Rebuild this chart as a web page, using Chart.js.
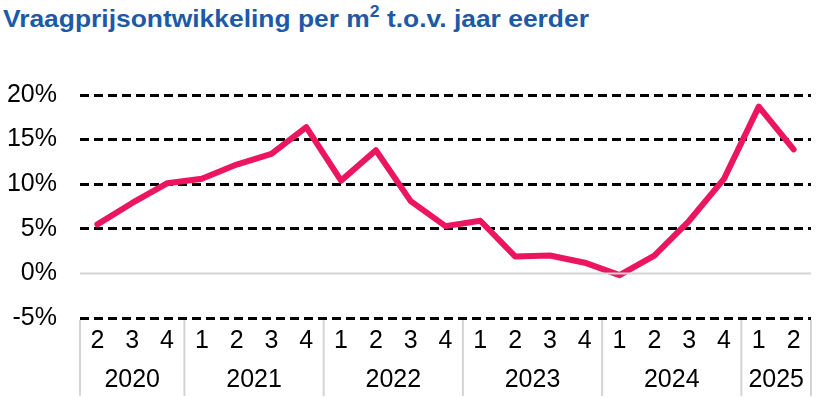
<!DOCTYPE html>
<html>
<head>
<meta charset="utf-8">
<script src="https://cdn.jsdelivr.net/npm/chart.js@4"></script>
<style>
  body { margin: 0; background: #fff; }
  #wrap { position: relative; width: 816px; height: 398px; }
  #titel {
    position: absolute; left: 3px; top: 7px; margin: 0;
    font: bold 24px/24px "Liberation Sans", Arial, sans-serif;
    color: #1c5aa8; white-space: nowrap;
    transform: scaleX(1.1); transform-origin: left top;
  }
  #titel sup { font-size: 16px; line-height: 0; position: relative; top: -1px; }
  canvas { position: absolute; left: 0; top: 0; }
</style>
</head>
<body>
<div id="wrap">
  <h1 id="titel">Vraagprijsontwikkeling per m<sup>2</sup> t.o.v. jaar eerder</h1>
  <canvas id="grafiek" width="816" height="398"></canvas>
</div>
<script>
// kwartalen en jaren
const kwartalen = ["2","3","4","1","2","3","4","1","2","3","4","1","2","3","4","1","2","3","4","1","2"];
const jaren = ["2020","2021","2022","2023","2024","2025"];
const kwartalenPerJaar = [3, 4, 4, 4, 4, 2];

// procentuele verandering t.o.v. jaar eerder
const vraagprijs = [5.5, 7.9, 10.1, 10.6, 12.2, 13.4, 16.4, 10.4, 13.8, 8.1, 5.3, 5.9, 1.9, 2.0, 1.2, -0.2, 2.0, 5.9, 10.6, 18.7, 13.9];

// as-ticks
const yMin = -5;
const yMax = 20;
const yStap = 5;

const lettertype = '"Liberation Sans", Arial, sans-serif';

// jaarlabels en scheidingslijnen onder de as
const jaarAs = {
    id: 'jaarAs',
    afterDraw(chart) {
        const ctx = chart.ctx;
        const x = chart.scales.x;
        const y = chart.scales.y;
        const area = chart.chartArea;

        // 0%-lijn doorgetrokken grijs
        const y0 = y.getPixelForValue(0);
        ctx.save();
        ctx.strokeStyle = '#d4d4d4';
        ctx.lineWidth = 2;
        ctx.beginPath();
        ctx.moveTo(area.left, y0);
        ctx.lineTo(area.right, y0);
        ctx.stroke();

        let start = 0;
        const grenzen = [area.left];
        jaren.forEach((jaar, j) => {
            const eind = start + kwartalenPerJaar[j] - 1;
            const links = start === 0 ? area.left : (x.getPixelForValue(start - 1) + x.getPixelForValue(start)) / 2;
            const rechts = eind === kwartalen.length - 1 ? area.right : (x.getPixelForValue(eind) + x.getPixelForValue(eind + 1)) / 2;
            grenzen.push(rechts);
            ctx.fillStyle = '#000';
            ctx.font = '25px ' + lettertype;
            ctx.textAlign = 'center';
            ctx.textBaseline = 'middle';
            ctx.fillText(jaar, (links + rechts) / 2, 380);
            start = eind + 1;
        });

        ctx.strokeStyle = '#d4d4d4';
        ctx.lineWidth = 2;
        grenzen.forEach(gx => {
            ctx.beginPath();
            ctx.moveTo(gx, area.bottom + 2);
            ctx.lineTo(gx, 396);
            ctx.stroke();
        });
        ctx.restore();
    }
};

new Chart(document.getElementById('grafiek'), {
    type: 'line',
    data: {
        labels: kwartalen,
        datasets: [{
            data: vraagprijs,
            borderColor: '#ec1660',
            borderWidth: 6,
            pointRadius: 0,
            tension: 0,
            borderCapStyle: 'round',
            borderJoinStyle: 'round'
        }]
    },
    options: {
        responsive: false,
        animation: false,
        layout: { padding: { top: 95, right: 5, left: 0, bottom: 0 } },
        plugins: { legend: { display: false }, tooltip: { enabled: false } },
        scales: {
            x: {
                offset: true,
                grid: { display: false, drawTicks: false },
                border: { display: false },
                ticks: {
                    color: '#000',
                    font: { size: 25, family: lettertype },
                    padding: 8,
                    maxRotation: 0,
                    autoSkip: false
                },
                afterFit(scale) { scale.height = 80; }
            },
            y: {
                min: yMin,
                max: yMax,
                grid: {
                    drawTicks: false,
                    color: c => c.tick && c.tick.value === 0 ? 'rgba(0,0,0,0)' : '#000',
                    lineWidth: 3
                },
                border: { display: false, dash: [9, 5] },
                ticks: {
                    stepSize: yStap,
                    color: '#000',
                    font: { size: 25, family: lettertype },
                    padding: 23,
                    callback: v => v + '%'
                },
                afterFit(scale) { scale.width = 80; }
            }
        }
    },
    plugins: [jaarAs]
});
</script>
</body>
</html>
